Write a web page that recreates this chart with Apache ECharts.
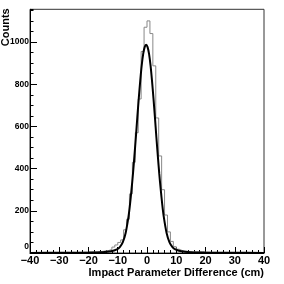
<!DOCTYPE html>
<html><head><meta charset="utf-8">
<script src="https://cdn.jsdelivr.net/npm/echarts@6/dist/echarts.min.js"></script>
<style>html,body{margin:0;padding:0;background:#fff}#c{width:284px;height:284px}</style>
</head><body><div id="c"></div>
<script>
// Histogram: 1 cm bins from -40 to 40 (low edges)
var binLow = -40, binWidth = 1;
var counts = [
  1,2,1,2,1,2,2,1,2,2,          // -40..-31
  2,2,3,2,3,2,3,3,4,3,          // -30..-21
  4,5,5,6,8,10,12,17,28,38,     // -20..-11
  50,62,110,160,280,430,570,730,955,1070, // -10..-1
  1100,1040,887,640,460,300,180,100,55,30, // 0..9
  18,12,9,8,7,6,5,5,4,4,        // 10..19
  4,3,3,3,2,3,2,2,2,2,          // 20..29
  2,1,2,2,1,1,2,1,1,1           // 30..39
];
// Fit curve
var fitX = [-40,-30,-20,-15.3,-12.3,-10.3,-9.3,-8.3,-7.3,-6.3,-5.8,-5.3,-4.8,-4.3,-3.8,-3.3,-2.8,-2.3,-1.8,-1.3,-0.8,-0.3,0.2,0.7,1.2,1.7,2.2,2.7,3.2,3.7,4.2,4.7,5.2,5.7,6.7,7.7,8.7,9.7,11.7,14.7,19.7,29.7,40];
var fitY = [0.5,1,2,4,8,17,28,50,95,175,232,300,375,460,550,645,735,818,890,944,976,987,976,944,890,818,735,645,550,460,375,300,232,175,95,50,28,17,8,4,2,1,0.5];
var xTicks = {min:-40, max:40, step:10};
var yTicks = {min:0, max:1155, step:200, minorStep:50};

var histData = counts.map(function(v,i){return [binLow+i*binWidth, v];});
histData.push([binLow+counts.length*binWidth, counts[counts.length-1]]);
var fitData = fitX.map(function(x,i){return [x, fitY[i]];});

var font = 'Liberation Sans';
var chart = echarts.init(document.getElementById('c'), null, {renderer:'canvas'});
chart.setOption({
  animation:false,
  grid:{left:29.5, right:20, top:9.3, bottom:31, show:true, borderColor:'#333', borderWidth:1, backgroundColor:'transparent'},
  xAxis:{type:'value', min:xTicks.min, max:xTicks.max, interval:xTicks.step,
    name:'Impact Parameter Difference (cm)', nameLocation:'end', nameGap:0, nameMoveOverlap:false,
    nameTextStyle:{fontFamily:font, fontWeight:'bold', fontSize:11, color:'#000', align:'right', verticalAlign:'top', padding:[14,0,0,0]},
    axisLine:{onZero:false, lineStyle:{color:'#000', width:1}},
    axisTick:{inside:true, length:6, lineStyle:{color:'#000'}},
    minorTick:{show:true, splitNumber:5, length:3, lineStyle:{color:'#000'}},
    splitLine:{show:false}, minorSplitLine:{show:false},
    axisLabel:{fontFamily:font, fontWeight:'bold', fontSize:11, color:'#000', margin:2,
      formatter:function(v){return String(v).replace('-','\u2212');}}
  },
  yAxis:[{type:'value', min:yTicks.min, max:yTicks.max, interval:yTicks.step,
    name:'Counts', nameLocation:'end', nameRotate:90, nameGap:1, nameMoveOverlap:false,
    nameTextStyle:{fontFamily:font, fontWeight:'bold', fontSize:11, color:'#000', align:'right', verticalAlign:'bottom', padding:[0,0,19,0]},
    axisLine:{show:true, onZero:false, lineStyle:{color:'#000', width:1}},
    axisTick:{inside:true, length:7, lineStyle:{color:'#000'}},
    splitLine:{show:false},
    axisLabel:{fontFamily:font, fontWeight:'bold', fontSize:8.5, color:'#000', margin:1, showMaxLabel:false,
      formatter:function(v){return v===0?'{z|0}':String(v);},
      rich:{z:{fontFamily:font, fontWeight:'bold', fontSize:8.5, color:'#000', padding:[0,0,13,0]}}}
  },{type:'value', min:yTicks.min, max:yTicks.max, interval:yTicks.minorStep, position:'left',
    axisLine:{show:false, onZero:false}, axisLabel:{show:false}, splitLine:{show:false},
    axisTick:{show:true, inside:true, length:3.5, lineStyle:{color:'#000'}}
  }],
  series:[{
    type:'line', data:histData, step:'end', symbol:'none',
    lineStyle:{color:'#888', width:1}, z:2
  },{
    type:'line', data:fitData, smooth:0.3, symbol:'none',
    lineStyle:{color:'#000', width:2}, z:3
  }]
});
</script></body></html>
